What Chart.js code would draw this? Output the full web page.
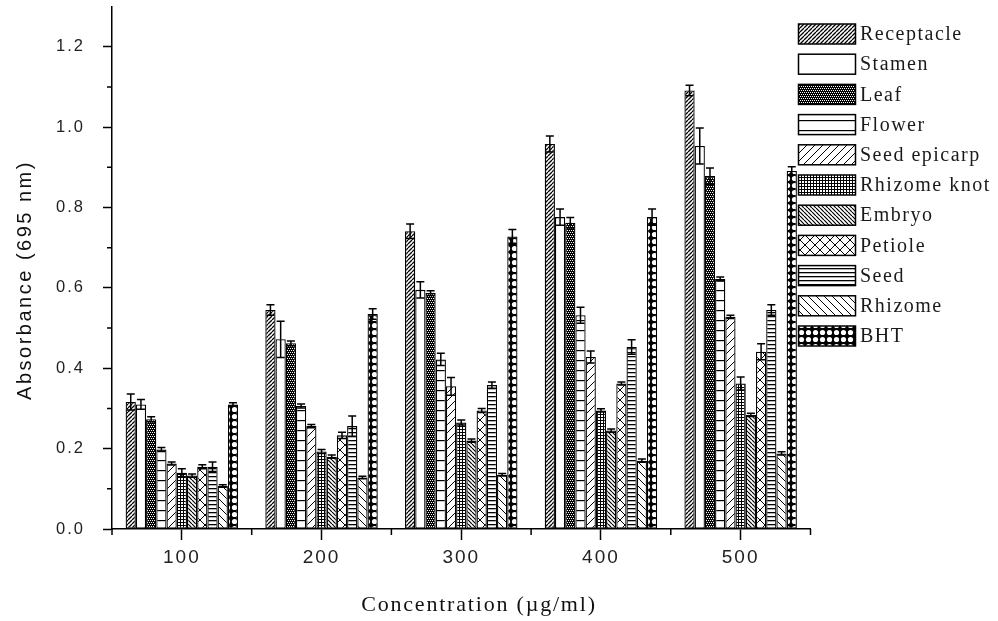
<!DOCTYPE html>
<html>
<head>
<meta charset="utf-8">
<script src="https://cdn.jsdelivr.net/npm/chart.js@4"></script>
<style>
  html, body { margin: 0; padding: 0; background: #fff; }
  canvas { display: block; }
</style>
</head>
<body>
<canvas id="chart" width="998" height="621"></canvas>
<script>
// categories (concentration, ug/ml)
const categories = ["100", "200", "300", "400", "500"];
const yTicks = [0, 0.2, 0.4, 0.6, 0.8, 1.0, 1.2];

// absorbance values, one array per sample
const receptacle  = [0.316, 0.545, 0.741, 0.958, 1.091];
const stamen      = [0.310, 0.472, 0.595, 0.776, 0.953];
const leaf        = [0.273, 0.462, 0.587, 0.762, 0.878];
const flower      = [0.198, 0.306, 0.422, 0.532, 0.622];
const seedEpicarp = [0.163, 0.256, 0.355, 0.428, 0.528];
const rhizomeKnot = [0.140, 0.193, 0.265, 0.295, 0.362];
const embryo      = [0.133, 0.180, 0.220, 0.245, 0.284];
const petiole     = [0.155, 0.233, 0.295, 0.362, 0.441];
const seed        = [0.155, 0.256, 0.358, 0.453, 0.545];
const rhizome     = [0.107, 0.128, 0.135, 0.170, 0.188];
const bht         = [0.310, 0.535, 0.728, 0.776, 0.891];

// error bars (+/-)
const receptacleErr  = [0.020, 0.013, 0.018, 0.020, 0.013];
const stamenErr      = [0.012, 0.045, 0.020, 0.020, 0.045];
const leafErr        = [0.006, 0.006, 0.006, 0.013, 0.020];
const flowerErr      = [0.005, 0.005, 0.015, 0.020, 0.005];
const seedEpicarpErr = [0.004, 0.004, 0.022, 0.015, 0.004];
const rhizomeKnotErr = [0.010, 0.005, 0.006, 0.004, 0.016];
const embryoErr      = [0.004, 0.004, 0.004, 0.004, 0.004];
const petioleErr     = [0.005, 0.008, 0.005, 0.004, 0.020];
const seedErr        = [0.012, 0.025, 0.008, 0.018, 0.013];
const rhizomeErr     = [0.003, 0.003, 0.003, 0.004, 0.004];
const bhtErr         = [0.004, 0.013, 0.017, 0.020, 0.010];

const seriesNames = ["Receptacle", "Stamen", "Leaf", "Flower", "Seed epicarp",
  "Rhizome knot", "Embryo", "Petiole", "Seed", "Rhizome", "BHT"];
const seriesValues = [receptacle, stamen, leaf, flower, seedEpicarp,
  rhizomeKnot, embryo, petiole, seed, rhizome, bht];
const seriesErrors = [receptacleErr, stamenErr, leafErr, flowerErr, seedEpicarpErr,
  rhizomeKnotErr, embryoErr, petioleErr, seedErr, rhizomeErr, bhtErr];

// --- hatch patterns ---
function makePattern(w, h, draw){
  const c = document.createElement("canvas");
  c.width = w; c.height = h;
  const g = c.getContext("2d");
  g.fillStyle = "#fff";
  g.fillRect(0, 0, w, h);
  g.strokeStyle = "#000";
  g.fillStyle = "#000";
  draw(g, w, h);
  return g.createPattern(c, "repeat");
}
function diag(g, s, lw, up){
  g.lineWidth = lw;
  g.beginPath();
  for(let k = -1; k <= 1; k++){
    if(up){ g.moveTo(k*s, s); g.lineTo(k*s + s, 0); }
    else { g.moveTo(k*s, 0); g.lineTo(k*s + s, s); }
  }
  g.stroke();
}
const patterns = [
  makePattern(4, 4, (g, w) => diag(g, w, 1.3, true)),          // receptacle
  makePattern(4, 4, () => {}),                                  // stamen
  makePattern(4, 4, (g) => {                                    // leaf
    g.fillRect(0, 0, 4, 4);
    g.fillStyle = "#fff";
    g.fillRect(0, 0, 1, 1); g.fillRect(2, 0, 1, 1);
    g.fillRect(1, 2, 1, 1); g.fillRect(3, 2, 1, 1);
  }),
  makePattern(10, 10, (g) => g.fillRect(0, 0, 10, 1.2)),        // flower
  makePattern(8, 8, (g, w) => diag(g, w, 1, true)),             // seed epicarp
  makePattern(3, 3, (g) => {                                    // rhizome knot
    g.fillRect(0, 0, 3, 1); g.fillRect(0, 0, 1, 3);
  }),
  makePattern(4, 4, (g, w) => diag(g, w, 1.2, false)),          // embryo
  makePattern(10, 10, (g, w) => { diag(g, w, 1, true); diag(g, w, 1, false); }), // petiole
  makePattern(4, 4, (g) => g.fillRect(0, 0, 4, 1.3)),           // seed
  makePattern(8, 8, (g, w) => diag(g, w, 1, false)),            // rhizome
  makePattern(7, 7, (g) => {                                    // bht
    g.fillRect(0, 0, 7, 7);
    g.fillStyle = "#fff";
    g.beginPath(); g.arc(3.5, 3.5, 2.6, 0, Math.PI*2); g.fill();
  })
];

const datasets = seriesNames.map((name, i) => ({
  label: name,
  data: seriesValues[i],
  errors: seriesErrors[i],
  backgroundColor: patterns[i],
  borderColor: "#000",
  borderWidth: 1.3,
  borderSkipped: false
}));

// error bars, minor ticks, axis titles and legend
const extras = {
  id: "extras",
  beforeDraw(chart){
    chart.ctx.letterSpacing = "2px";
  },
  afterDatasetsDraw(chart){
    const ctx = chart.ctx;
    const y = chart.scales.y;
    ctx.save();
    ctx.strokeStyle = "#000";
    ctx.lineWidth = 1.5;
    chart.data.datasets.forEach((ds, di) => {
      chart.getDatasetMeta(di).data.forEach((bar, i) => {
        const v = ds.data[i], e = ds.errors[i];
        const top = y.getPixelForValue(v + e), bot = y.getPixelForValue(v - e);
        ctx.beginPath();
        ctx.moveTo(bar.x, top); ctx.lineTo(bar.x, bot);
        ctx.moveTo(bar.x - 4, top); ctx.lineTo(bar.x + 4, top);
        ctx.moveTo(bar.x - 4, bot); ctx.lineTo(bar.x + 4, bot);
        ctx.stroke();
      });
    });
    ctx.restore();
  },
  afterDraw(chart){
    const ctx = chart.ctx;
    const {x, y} = chart.scales;
    const area = chart.chartArea;
    ctx.save();
    ctx.strokeStyle = "#000";
    ctx.lineWidth = 1.5;
    ctx.beginPath();
    for(let v = 0.1; v < 1.2; v += 0.2){
      const py = y.getPixelForValue(v);
      ctx.moveTo(area.left - 5, py); ctx.lineTo(area.left, py);
    }
    for(let i = 0; i <= categories.length; i++){
      const px = x.getPixelForValue(i - 0.5);
      ctx.moveTo(px, area.bottom); ctx.lineTo(px, area.bottom + 6);
    }
    ctx.stroke();

    // axis titles
    ctx.fillStyle = "#111";
    ctx.textAlign = "center";
    ctx.textBaseline = "middle";
    ctx.letterSpacing = "1.8px";
    ctx.font = '22px "Liberation Serif"';
    ctx.fillText("Concentration (\u00b5g/ml)", 479, 605);
    ctx.save();
    ctx.translate(25, 280);
    ctx.rotate(-Math.PI/2);
    ctx.letterSpacing = "2.5px";
    ctx.font = '20px "Liberation Sans"';
    ctx.fillText("Absorbance (695 nm)", 0, 0);
    ctx.restore();

    // legend
    ctx.textAlign = "left";
    ctx.letterSpacing = "1.5px";
    ctx.font = '20px "Liberation Serif"';
    seriesNames.forEach((name, i) => {
      const cy = 34 + i*30.2;
      ctx.fillStyle = patterns[i];
      ctx.fillRect(798.5, cy - 10, 57, 20);
      ctx.strokeRect(798.5, cy - 10, 57, 20);
      ctx.fillStyle = "#1a1a1a";
      ctx.fillText(name, 860, cy + 1);
    });
    ctx.restore();
  }
};

new Chart(document.getElementById("chart"), {
  type: "bar",
  data: { labels: categories, datasets },
  options: {
    responsive: false,
    animation: false,
    categoryPercentage: 0.805,
    barPercentage: 1.0,
    layout: { padding: { top: 6.5, right: 187.5, left: 0, bottom: 0 } },
    plugins: { legend: { display: false }, tooltip: { enabled: false } },
    scales: {
      x: {
        offset: true,
        grid: { drawOnChartArea: false, drawTicks: true, tickLength: 11, tickColor: "#000", tickWidth: 1.5, offset: false },
        border: { color: "#000", width: 1.5 },
        ticks: { color: "#222", padding: 6, maxRotation: 0, font: { family: "Liberation Sans", size: 19 } },
        afterFit: s => { s.height = 92; s.paddingLeft = 0; s.paddingRight = 0; }
      },
      y: {
        min: 0,
        max: 1.3,
        afterBuildTicks: s => { s.ticks = yTicks.map(v => ({ value: v })); },
        grid: { drawOnChartArea: false, drawTicks: true, tickLength: 9, tickColor: "#000", tickWidth: 1.5 },
        border: { color: "#000", width: 1.5 },
        ticks: { color: "#222", padding: 18, font: { family: "Liberation Sans", size: 16.5 },
          callback: v => Number(v).toFixed(1) },
        afterFit: s => { s.width = 112; s.paddingTop = 0; s.paddingBottom = 0; }
      }
    }
  },
  plugins: [extras]
});
</script>
</body>
</html>
